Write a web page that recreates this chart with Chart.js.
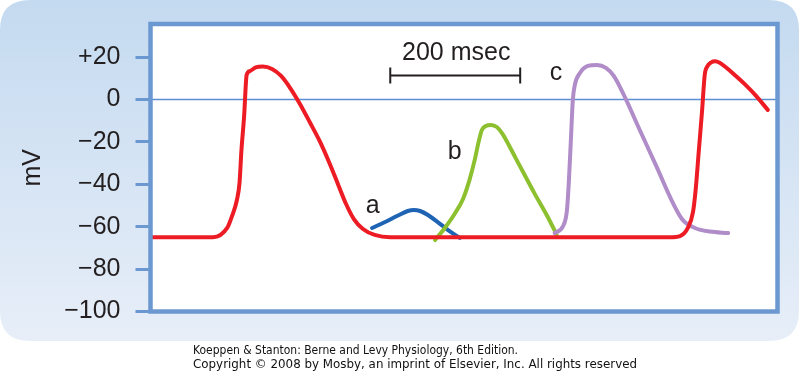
<!DOCTYPE html>
<html lang="en">
<head>
<meta charset="UTF-8">
<title>Cardiac action potentials</title>
<script src="https://cdn.jsdelivr.net/npm/chart.js"></script>
<style>
  html, body { margin: 0; padding: 0; background: #fff; }
  #wrap { width: 800px; height: 372px; }
</style>
</head>
<body>
<div id="wrap"><canvas id="apChart" width="800" height="372"></canvas></div>
<script>
// time in msec, membrane potential in mV
const yTicks = [-100, -80, -60, -40, -20, 0, 20];

const redTime = [0, 96, 118, 125, 133, 137, 140, 144, 148, 153, 162, 173, 187, 201, 215, 230, 245, 261, 276, 289, 301, 313, 327, 345, 369, 399,
                 799, 815, 827, 835, 839, 844, 849, 853, 857, 863, 869, 876, 885, 899, 915, 932, 950];
const redMv = [-65, -65, -60.6, -55.4, -47.4, -39.4, -23.8, -8.3, 11.6, 13.4, 15.1, 15.5, 14.4, 11.1, 5.4, -2.1, -10.6, -20, -30.4, -40.3, -49.3, -56.4, -61.1, -63.9, -65, -65,
               -65, -64.4, -60.6, -53, -42.7, -23.8, -5, 11.6, 15.6, 17.5, 18, 17.3, 15.3, 11.6, 7.1, 1.7, -4.9];

const aTime = [341, 361, 381, 396, 405, 415, 427, 442, 458, 476];
const aMv = [-60.6, -57.8, -54.7, -52.6, -52.1, -52.6, -54.5, -57.8, -61.6, -65.3];

const bTime = [438, 453, 468, 481, 491, 499, 505, 510, 516, 524, 533, 542, 553, 568, 591, 611, 625];
const bMv = [-66.3, -60.6, -54, -46.9, -37.9, -28.5, -20, -14.4, -12.5, -12, -13, -16.3, -22.4, -31.1, -44.3, -55.2, -63.7];

const cTime = [622, 635, 641, 644, 647, 650, 653, 661, 673, 687, 701, 713, 727, 753, 779, 804, 819, 838, 861, 889];
const cMv = [-63, -59.7, -52.1, -38, -19.1, -0.2, 6.8, 12.5, 15.8, 16.3, 14.9, 11.1, 3.1, -14.4, -31.8, -48.8, -56.8, -60.6, -62.3, -63];

const zeroTime = [0, 965];
const zeroMv = [0, 0];

const curveLabels = ['a', 'b', 'c'];
const labelTime = [342, 468, 624];
const labelMv = [-50.2, -24.8, 12.5];

const barStart = 369;
const barLength = 200;
const barMv = 11.3;

const caption = [
    'Koeppen & Stanton: Berne and Levy Physiology, 6th Edition.',
    'Copyright \u00a9 2008 by Mosby, an imprint of Elsevier, Inc. All rights reserved'
];

const FONT = '"Liberation Sans", Arial, Helvetica, sans-serif';

function pts(xs, ys) {
    return xs.map((x, i) => ({ x: x, y: ys[i] }));
}

function roundRect(ctx, x, y, w, h, r) {
    ctx.beginPath();
    ctx.moveTo(x + r, y);
    ctx.lineTo(x + w - r, y);
    ctx.quadraticCurveTo(x + w, y, x + w, y + r);
    ctx.lineTo(x + w, y + h - r);
    ctx.quadraticCurveTo(x + w, y + h, x + w - r, y + h);
    ctx.lineTo(x + r, y + h);
    ctx.quadraticCurveTo(x, y + h, x, y + h - r);
    ctx.lineTo(x, y + r);
    ctx.quadraticCurveTo(x, y, x + r, y);
    ctx.closePath();
}

const decorations = {
    id: 'decorations',
    beforeDraw(chart) {
        const ctx = chart.ctx;
        const a = chart.chartArea;
        ctx.save();
        const g = ctx.createLinearGradient(0, 0, 0, 341);
        g.addColorStop(0, '#c4daf0');
        g.addColorStop(1, '#e7eef8');
        ctx.fillStyle = g;
        roundRect(ctx, 0, 0, 799, 341, 30);
        ctx.fill();
        ctx.fillStyle = '#ffffff';
        ctx.fillRect(a.left, a.top, a.right - a.left, a.bottom - a.top);
        ctx.restore();
    },
    afterDatasetsDraw(chart) {
        const ctx = chart.ctx;
        const a = chart.chartArea;
        const xs = chart.scales.x, ys = chart.scales.y;
        ctx.save();
        // plot frame
        ctx.strokeStyle = '#6b98d0';
        ctx.lineWidth = 4.5;
        ctx.strokeRect(a.left, a.top, a.right - a.left, a.bottom - a.top);

        // curve letters
        ctx.fillStyle = '#231f20';
        ctx.font = '25px ' + FONT;
        ctx.textAlign = 'center';
        ctx.textBaseline = 'middle';
        curveLabels.forEach((t, i) => {
            ctx.fillText(t, xs.getPixelForValue(labelTime[i]), ys.getPixelForValue(labelMv[i]));
        });

        // 200 msec scale bar
        const x0 = xs.getPixelForValue(barStart);
        const x1 = xs.getPixelForValue(barStart + barLength);
        const yb = ys.getPixelForValue(barMv);
        ctx.strokeStyle = '#231f20';
        ctx.lineWidth = 2;
        ctx.beginPath();
        ctx.moveTo(x0, yb); ctx.lineTo(x1, yb);
        ctx.moveTo(x0, yb - 8); ctx.lineTo(x0, yb + 8);
        ctx.moveTo(x1, yb - 8); ctx.lineTo(x1, yb + 8);
        ctx.stroke();
        ctx.font = '25px ' + FONT;
        ctx.fillText(barLength + ' msec', (x0 + x1) / 2 + 1, yb - 22);
        ctx.restore();
    },
    afterDraw(chart) {
        const ctx = chart.ctx;
        ctx.save();
        ctx.fillStyle = '#111';
        ctx.font = '12px "DejaVu Sans", Verdana, sans-serif';
        ctx.textBaseline = 'middle';
        ctx.textAlign = 'left';
        ctx.fillText(caption[0], 193, 351, 325);
        ctx.fillText(caption[1], 193, 365, 444);
        ctx.restore();
    }
};

const line = (data, color, order) => ({
    data: data,
    borderColor: color,
    borderWidth: 4,
    pointRadius: 0,
    cubicInterpolationMode: 'monotone',
    borderCapStyle: 'round',
    borderJoinStyle: 'round',
    fill: false,
    order: order
});

new Chart(document.getElementById('apChart'), {
    type: 'line',
    data: {
        datasets: [
            line(pts(redTime, redMv), '#ed1c24', 0),
            line(pts(cTime, cMv), '#b08cc8', 1),
            line(pts(bTime, bMv), '#8dc02f', 2),
            line(pts(aTime, aMv), '#1f64b4', 3),
            Object.assign(line(pts(zeroTime, zeroMv), '#5b8fd2', 4), { borderWidth: 1.5, borderCapStyle: 'butt' })
        ]
    },
    options: {
        responsive: false,
        animation: false,
        layout: { padding: { left: 0, top: 24, right: 22.5, bottom: 60.5 } },
        plugins: { legend: { display: false }, tooltip: { enabled: false } },
        scales: {
            x: {
                type: 'linear',
                display: false,
                min: 0,
                max: 965
            },
            y: {
                min: -100,
                max: 35.6,
                afterBuildTicks: scale => { scale.ticks = yTicks.map(v => ({ value: v })); },
                afterFit: scale => {
                    scale.width = 150.5;
                    scale.paddingTop = 0;
                    scale.paddingBottom = 0;
                },
                border: { display: false },
                grid: {
                    drawOnChartArea: false,
                    drawTicks: true,
                    tickLength: 15,
                    color: '#6b98d0',
                    lineWidth: 3
                },
                ticks: {
                    padding: 15,
                    color: '#231f20',
                    font: { family: FONT, size: 25 },
                    callback: v => v > 0 ? '+' + v : (v < 0 ? '\u2212' + Math.abs(v) : '0')
                },
                title: {
                    display: true,
                    text: 'mV',
                    color: '#231f20',
                    font: { family: FONT, size: 25 },
                    padding: { top: 18, bottom: 0 }
                }
            }
        }
    },
    plugins: [decorations]
});
</script>
</body>
</html>
